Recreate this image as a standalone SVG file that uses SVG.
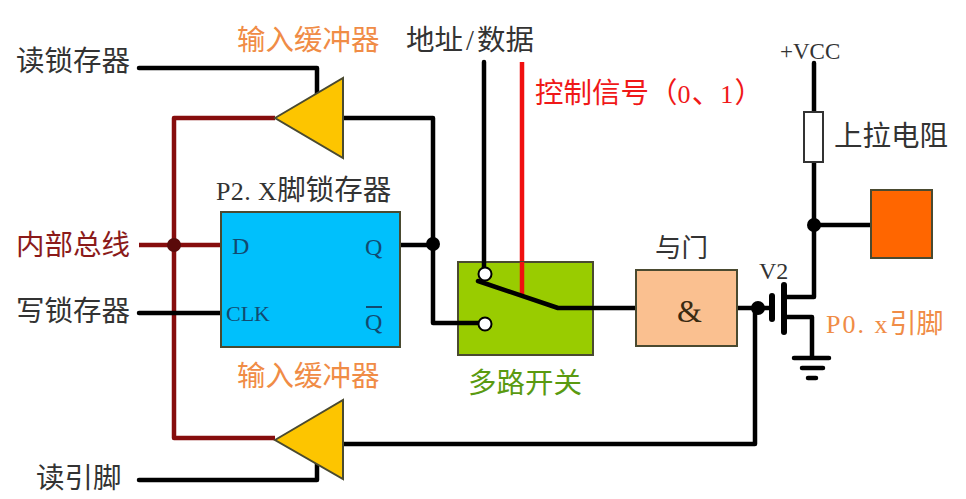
<svg xmlns="http://www.w3.org/2000/svg" width="966" height="499" viewBox="0 0 966 499">
<style>
text{font-family:"Liberation Serif","Noto Sans CJK SC",serif;fill:#333;font-size:28.5px}
.o{fill:#f08c46}
.w{fill:none;stroke:#000;stroke-width:4.5;stroke-linejoin:round;stroke-linecap:round}
.b{fill:none;stroke:#860d0d;stroke-width:4.5;stroke-linejoin:round}
.r{fill:none;stroke:#f01010;stroke-width:4.5}
.n{stroke:#4a4a30;stroke-width:2}
.lbl{font-size:24px;fill:#124a70}
.lat{font-size:26px}
</style>
<rect width="966" height="499" fill="#fff"/>
<g id="connectors">
<path class="w" d="M139 68H317V95"/>
<path class="w" d="M343 118H433V323H458"/>
<path class="b" d="M275 118H174V438H275"/>
<path class="b" d="M139 245H221"/>
<path class="w" d="M139 313H221"/>
<path class="w" d="M400 245H433"/>
<path class="w" d="M484 62V262"/>
<path class="r" d="M522 62V262"/>
<path class="w" d="M593 308H636"/>
<path class="w" d="M737 308H770"/>
<path class="w" d="M755 308V444H343"/>
<path class="w" d="M139 480H317V462"/>
<path class="w" d="M772 296V319" style="stroke-width:6"/>
<path class="w" d="M784 285V332" style="stroke-width:6"/>
<path class="w" d="M786 297H814V63"/>
<path class="w" d="M786 317H812V357"/>
<path class="w" d="M814 225H871"/>
<path class="w" d="M794 358H829M802 368H823M808 378H816"/>
<circle cx="174" cy="245" r="7" fill="#5a0a0a"/>
<circle cx="433" cy="244" r="7"/>
<circle cx="814" cy="225" r="7"/>
<circle cx="758" cy="308" r="7"/>
</g>
<g id="buffer-top"><polygon class="n" fill="#fdc500" points="275,118 343,78 343,158"/></g>
<g id="buffer-bottom"><polygon class="n" fill="#fdc500" points="275,440 343,400 343,479"/></g>
<g id="latch">
<rect class="n" x="221" y="212" width="179" height="135" fill="#00c0fc"/>
<text class="lbl" x="232" y="254">D</text>
<text class="lbl" x="226" y="321" style="font-size:22px">CLK</text>
<text class="lbl" x="365" y="255">Q</text>
<text class="lbl" x="365" y="330">Q</text>
<path d="M366 307H382" stroke="#124a70" stroke-width="2"/>
</g>
<g id="mux">
<rect class="n" x="458" y="262" width="135" height="93" fill="#99cc00"/>
<path class="r" d="M522 262V295"/>
<path class="w" d="M484 262V268"/>
<path class="w" d="M458 323H480"/>
<path class="w" d="M478 281L558 308H593"/>
<circle cx="485" cy="274" r="6.5" fill="#fff" stroke="#000" stroke-width="2"/>
<circle cx="485" cy="324" r="6.5" fill="#fff" stroke="#000" stroke-width="2"/>
</g>
<g id="and"><rect class="n" x="636" y="270" width="101" height="76" fill="#fac090"/>
<text x="677" y="322" style="font-size:32px;fill:#3a2a10">&amp;</text></g>
<g id="pin"><rect class="n" x="871" y="190" width="61" height="68" fill="#ff6600"/></g>
<g id="resistor"><rect x="804" y="112" width="19" height="50" fill="#fff" stroke="#333" stroke-width="2"/></g>
<g id="labels">
<text x="16" y="71">读锁存器</text>
<text x="16" y="255" style="fill:#8b1a1a">内部总线</text>
<text x="16" y="321">写锁存器</text>
<text x="36" y="488">读引脚</text>
<text class="o" x="237" y="50">输入缓冲器</text>
<text class="o" x="237" y="386">输入缓冲器</text>
<text x="216" y="200"><tspan class="lat" letter-spacing="0.4">P2. X</tspan>脚锁存器</text>
<text x="406" y="50">地址<tspan dx="3" letter-spacing="3">/</tspan>数据</text>
<text x="535" y="103" style="fill:#f01818">控制信号（<tspan class="lat" letter-spacing="1.2">0</tspan>、<tspan class="lat" letter-spacing="1.2">1</tspan>）</text>
<text x="780" y="59" style="font-size:23px">+VCC</text>
<text x="834" y="146">上拉电阻</text>
<text x="655" y="257" style="font-size:26.5px">与门</text>
<text x="759" y="279" style="font-size:24px">V2</text>
<text class="o" x="826" y="333" style="font-size:27px"><tspan class="lat" letter-spacing="2">P0. x</tspan>引脚</text>
<text x="468" y="393" style="fill:#5a9a10">多路开关</text>
</g>
</svg>
